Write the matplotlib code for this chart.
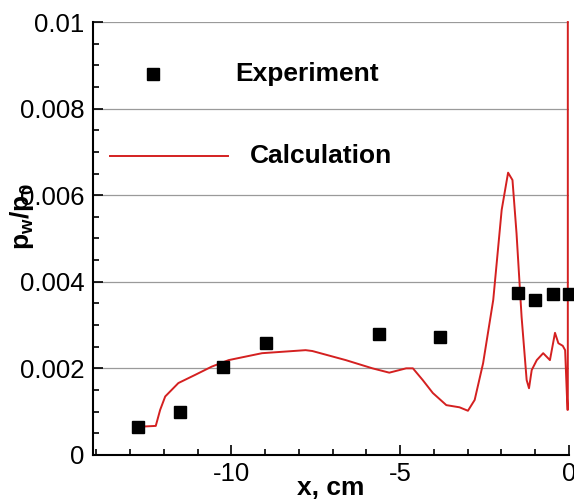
import numpy as np
import matplotlib
matplotlib.use("Agg")
import matplotlib.pyplot as plt
from matplotlib.ticker import MultipleLocator

plt.rcParams['font.family'] = ['Liberation Sans', 'DejaVu Sans']
plt.rcParams['mathtext.fontset'] = 'custom'
plt.rcParams['mathtext.rm'] = 'Liberation Sans'
plt.rcParams['mathtext.it'] = 'Liberation Sans:italic'
plt.rcParams['mathtext.bf'] = 'Liberation Sans:bold'

# experiment points
exp_x = [-12.76, -11.53, -10.26, -8.96, -5.62, -3.83, -1.50, -1.00, -0.48, 0.0]
exp_y = [0.00065, 0.00098, 0.00202, 0.00258, 0.00279, 0.00273, 0.00373, 0.00358, 0.00371, 0.00371]

# calculation curve
calc_x = [-12.76, -12.24, -12.11, -11.96, -11.57, -11.07, -10.58, -10.08, -9.09, -7.80,
          -7.60, -6.61, -5.82, -5.32, -4.82, -4.62, -4.33, -4.03, -3.63, -3.24,
          -2.99, -2.79, -2.54, -2.24, -1.99, -1.80, -1.67, -1.55, -1.40, -1.25,
          -1.18, -1.10, -0.95, -0.76, -0.56, -0.41, -0.31, -0.18, -0.11, -0.04,
          -0.03, -0.03]
calc_y = [0.00065, 0.00067, 0.00104, 0.00135, 0.00166, 0.00185, 0.00204, 0.00219, 0.00235, 0.00242,
          0.00240, 0.00219, 0.00200, 0.00190, 0.00200, 0.00200, 0.00173, 0.00143, 0.00115, 0.00110,
          0.00102, 0.00127, 0.00212, 0.00358, 0.00566, 0.00652, 0.00635, 0.00512, 0.00319, 0.00173,
          0.00154, 0.00196, 0.00219, 0.00235, 0.00219, 0.00282, 0.00258, 0.00252, 0.00242, 0.00104,
          0.00104, 0.01]

red = '#d42020'

fig = plt.figure(figsize=(5.74, 5.01), dpi=100)
ax = fig.add_axes([0.162, 0.092, 0.829, 0.864])

ax.plot(calc_x, calc_y, color=red, lw=1.4, clip_on=False)
ax.plot(exp_x, exp_y, 's', color='black', ms=8, clip_on=False, zorder=5)

ax.set_xlim(-14.1, 0)
ax.set_ylim(0, 0.01)
ax.xaxis.set_minor_locator(MultipleLocator(1))
ax.yaxis.set_minor_locator(MultipleLocator(0.0005))
ax.set_yticks([0, 0.002, 0.004, 0.006, 0.008, 0.01])
ax.set_yticklabels(['0', '0.002', '0.004', '0.006', '0.008', '0.01'])
ax.set_xticks([-10, -5, 0])
ax.set_xticklabels(['-10', '-5', '0'])

ax.grid(axis='y', which='major', color='#9a9a9a', lw=0.9)
ax.set_axisbelow(True)
ax.spines['top'].set_visible(False)
ax.spines['right'].set_visible(False)
for s in ['left', 'bottom']:
    ax.spines[s].set_linewidth(1.5)

ax.tick_params(which='both', direction='in', labelsize=18.5, width=1.2)
ax.tick_params(which='major', length=7)
ax.tick_params(which='minor', length=4)
ax.tick_params(axis='y', pad=6)
ax.tick_params(axis='x', pad=5)

ax.set_xlabel('x, cm', fontsize=19, fontweight='bold', va='center')
ax.xaxis.set_label_coords(0.5, -0.076)
ax.set_ylabel(r'$\mathbf{p_w/p_0}$', fontsize=19, va='center')
ax.yaxis.set_label_coords(-0.149, 0.55)

# legend drawn by hand
ax.plot([0.126], [0.880], 's', color='black', ms=8, transform=ax.transAxes)
ax.text(0.300, 0.880, 'Experiment', transform=ax.transAxes, fontsize=19,
        fontweight='bold', va='center', ha='left')
ax.plot([0.036, 0.284], [0.690, 0.690], color=red, lw=1.4, transform=ax.transAxes)
ax.text(0.330, 0.690, 'Calculation', transform=ax.transAxes, fontsize=19,
        fontweight='bold', va='center', ha='left')

fig.savefig('out.png', dpi=100)
